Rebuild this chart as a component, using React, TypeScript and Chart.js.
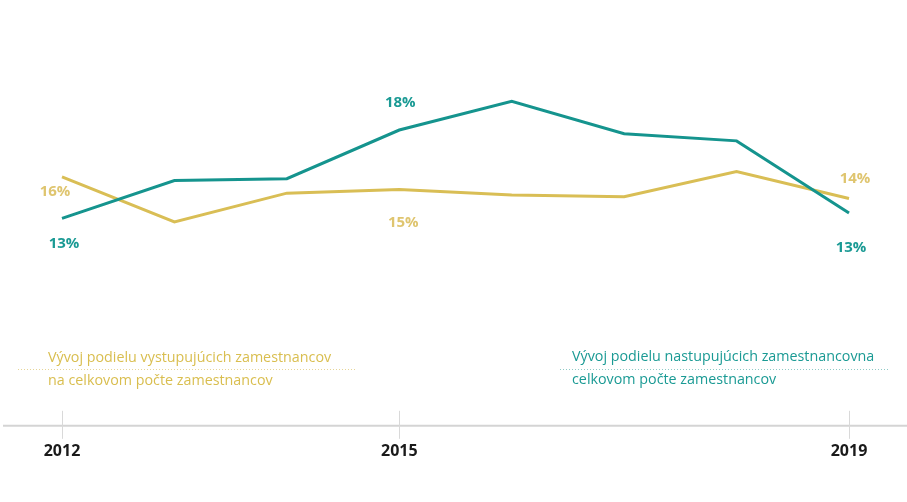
import React, { useEffect, useRef } from "react";
import { Chart, registerables } from "chart.js";

Chart.register(...registerables);

const years = ["2012", "2013", "2014", "2015", "2016", "2017", "2018", "2019"];
const shownYears = ["2012", "2015", "2019"];
const incoming = [13.0, 15.1, 15.2, 17.9, 19.5, 17.7, 17.3, 13.3];
const outgoing = [15.3, 12.8, 14.4, 14.6, 14.3, 14.2, 15.6, 14.1];
const incomingLabels = ["13%", null, null, "18%", null, null, null, "13%"];
const outgoingLabels = ["16%", null, null, "15%", null, null, null, "14%"];
const outgoingLegend = ["Vývoj podielu vystupujúcich zamestnancov", "na celkovom počte zamestnancov"];
const incomingLegend = ["Vývoj podielu nastupujúcich zamestnancovna", "celkovom počte zamestnancov"];

const TEAL = "#15948e";
const TEAL_TEXT = "#1a9a94";
const GOLD = "#d9be55";
const GOLD_TEXT = "#dfc56f";
const FONT = "'Open Sans', sans-serif";

// label offsets [dx, dy] relative to point
const incomingOffsets: Record<number, [number, number]> = { 0: [2, 25], 3: [1, -27], 7: [2, 35] };
const outgoingOffsets: Record<number, [number, number]> = { 0: [-7, 15], 3: [4, 33], 7: [6, -20] };

const decorPlugin = {
  id: "decor",
  beforeDatasetsDraw(chart: any) {
    const { ctx, chartArea, scales } = chart;
    const x = scales.x;
    const axisY = chartArea.bottom;
    ctx.save();
    ctx.strokeStyle = "#d4d4d4";
    ctx.lineWidth = 2;
    ctx.beginPath();
    ctx.moveTo(3, axisY);
    ctx.lineTo(chart.width, axisY);
    ctx.stroke();
    ctx.lineWidth = 1;
    ctx.strokeStyle = "#d9d9d9";
    shownYears.forEach((yr) => {
      const px = Math.round(x.getPixelForValue(years.indexOf(yr))) + 0.5;
      ctx.beginPath();
      ctx.moveTo(px, axisY - 15);
      ctx.lineTo(px, axisY + 13);
      ctx.stroke();
    });

    // legend texts
    ctx.font = `14.3px ${FONT}`;
    ctx.textBaseline = "middle";
    ctx.textAlign = "left";
    ctx.fillStyle = "#d9be4f";
    ctx.fillText(outgoingLegend[0], 48, 358);
    ctx.fillText(outgoingLegend[1], 48, 381);
    ctx.fillStyle = "#1a9a94";
    ctx.fillText(incomingLegend[0], 572, 357);
    ctx.fillText(incomingLegend[1], 572, 380);
    ctx.setLineDash([1, 2]);
    ctx.lineWidth = 1;
    ctx.strokeStyle = "#e6d597";
    ctx.beginPath();
    ctx.moveTo(18, 369.5);
    ctx.lineTo(355, 369.5);
    ctx.stroke();
    ctx.strokeStyle = "#8fcac6";
    ctx.beginPath();
    ctx.moveTo(560, 369.5);
    ctx.lineTo(890, 369.5);
    ctx.stroke();
    ctx.restore();
  },
  afterDatasetsDraw(chart: any) {
    const { ctx } = chart;
    ctx.save();
    ctx.font = `bold 15px ${FONT}`;
    ctx.textAlign = "center";
    ctx.textBaseline = "middle";
    const draw = (dsIndex: number, labels: (string | null)[], offs: Record<number, [number, number]>, color: string) => {
      const meta = chart.getDatasetMeta(dsIndex);
      labels.forEach((l, i) => {
        if (!l) return;
        const pt = meta.data[i];
        const o = offs[i] || [0, 0];
        ctx.fillStyle = color;
        ctx.fillText(l, pt.x + o[0], pt.y + o[1]);
      });
    };
    draw(0, incomingLabels, incomingOffsets, TEAL_TEXT);
    draw(1, outgoingLabels, outgoingOffsets, GOLD_TEXT);
    ctx.restore();
  },
};

export default function App() {
  const ref = useRef<HTMLCanvasElement>(null);
  useEffect(() => {
    if (!ref.current) return;
    const chart = new Chart(ref.current, {
      type: "line",
      data: {
        labels: years,
        datasets: [
          { data: incoming, borderColor: TEAL, borderWidth: 3, pointRadius: 0, tension: 0, fill: false },
          { data: outgoing, borderColor: GOLD, borderWidth: 3, pointRadius: 0, tension: 0, fill: false },
        ],
      },
      options: {
        animation: false,
        responsive: false,
        devicePixelRatio: 1,
        layout: { padding: { left: 62, right: 58, top: 0, bottom: 25 } },
        plugins: { legend: { display: false }, tooltip: { enabled: false } },
        scales: {
          x: {
            offset: false,
            grid: { display: false, drawTicks: false },
            border: { display: false },
            ticks: {
              autoSkip: false,
              maxRotation: 0,
              padding: 16,
              color: "#1a1a1a",
              font: { family: FONT, size: 16, weight: "bold" },
              callback: (v: any) => (shownYears.includes(years[v]) ? years[v] : ""),
            },
          },
          y: { display: false, min: 1.5, max: 1.5 + 425 / 18 },
        },
      },
      plugins: [decorPlugin],
    });
    return () => chart.destroy();
  }, []);
  return (
    <div style={{ position: "fixed", left: 0, top: 0, width: 907, height: 502, background: "#fff" }}>
      <canvas ref={ref} width={907} height={502} style={{ width: 907, height: 502 }} />
    </div>
  );
}
